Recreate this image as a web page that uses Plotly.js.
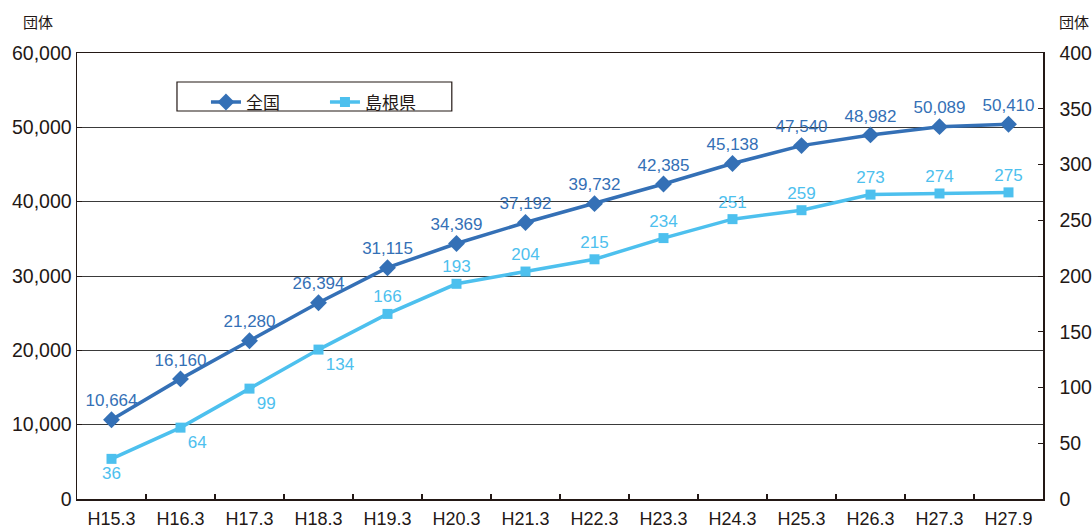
<!DOCTYPE html>
<html>
<head>
<meta charset="utf-8">
<script src="https://cdn.plot.ly/plotly-3.0.1.min.js"></script>
<style>html,body{margin:0;padding:0;background:#fff;}#chart{width:1092px;height:529px;}</style>
</head>
<body>
<div id="chart"></div>
<script>
const categories = ["H15.3","H16.3","H17.3","H18.3","H19.3","H20.3","H21.3","H22.3","H23.3","H24.3","H25.3","H26.3","H27.3","H27.9"];
const national = [10664,16160,21280,26394,31115,34369,37192,39732,42385,45138,47540,48982,50089,50410];
const shimane = [36,64,99,134,166,193,204,215,234,251,259,273,274,275];
const seriesNames = ["全国","島根県"];
const shimaneLabelPos = ["bottom center","bottom right","bottom right","bottom right","top center","top center","top center","top center","top center","top center","top center","top center","top center","top center"];

const darkBlue = "#3470b6";
const lightBlue = "#4dc0ee";
const txt = "#231815";
const font = "Liberation Sans, Arial, sans-serif";
const cjk = "Noto Sans CJK JP, sans-serif";
const fmt = v => v.toLocaleString("en-US");

const traces = [
  {
    x: categories, y: national, name: seriesNames[0], type: "scatter",
    mode: "lines+markers+text",
    line: {color: darkBlue, width: 3.5},
    marker: {symbol: "diamond", size: 13, color: darkBlue},
    text: national.map(fmt), textposition: "top center",
    textfont: {color: darkBlue, size: 17, family: font},
    cliponaxis: false, yaxis: "y"
  },
  {
    x: categories, y: shimane, name: seriesNames[1], type: "scatter",
    mode: "lines+markers+text",
    line: {color: lightBlue, width: 3.5},
    marker: {symbol: "square", size: 10, color: lightBlue},
    text: shimane.map(fmt), textposition: shimaneLabelPos,
    textfont: {color: lightBlue, size: 17, family: font},
    cliponaxis: false, yaxis: "y2"
  }
];

const layout = {
  width: 1092, height: 529,
  margin: {l: 77, r: 49, t: 53, b: 30},
  paper_bgcolor: "#fff", plot_bgcolor: "#fff",
  font: {family: font, color: txt, size: 17},
  showlegend: true,
  legend: {
    orientation: "h", x: 0.1335, y: 0.9295, xanchor: "left", yanchor: "top",
    borderwidth: 0, bgcolor: "rgba(0,0,0,0)",
    font: {family: cjk, size: 17, color: txt},
    entrywidth: 74, entrywidthmode: "pixels", traceorder: "normal"
  },
  shapes: [
    {type: "rect", xref: "paper", yref: "paper", x0: 0.1035, x1: 0.388, y0: 0.870, y1: 0.935,
     line: {color: txt, width: 1.2}, fillcolor: "#fff", layer: "below"}
  ],
  xaxis: {
    type: "category", range: [-0.5, 13.5],
    showline: true, linecolor: txt, linewidth: 1.5, mirror: true,
    ticks: "inside", ticklen: 5, tickcolor: txt, tickwidth: 1.3, tickson: "boundaries",
    showgrid: false, tickfont: {size: 18, color: txt}, ticklabelstandoff: 3
  },
  yaxis: {
    range: [0, 60000], dtick: 10000, tickformat: ",d",
    showline: true, linecolor: txt, linewidth: 1.5,
    ticks: "inside", ticklen: 5, tickcolor: txt,
    showgrid: true, gridcolor: "#3a3a3a", gridwidth: 1, zeroline: false,
    tickfont: {size: 19.5, color: txt}
  },
  yaxis2: {
    range: [0, 400], dtick: 50, overlaying: "y", side: "right",
    showline: true, linecolor: txt, linewidth: 1.5,
    ticks: "inside", ticklen: 5, tickcolor: txt,
    showgrid: false, zeroline: false, tickfont: {size: 19.5, color: txt},
    ticklabelstandoff: 11
  },
  annotations: [
    {text: "団体", xref: "paper", yref: "paper", x: -0.04, y: 1.07, xanchor: "center", yanchor: "middle", showarrow: false, font: {family: cjk, size: 15, color: txt}},
    {text: "団体", xref: "paper", yref: "paper", x: 1.032, y: 1.07, xanchor: "center", yanchor: "middle", showarrow: false, font: {family: cjk, size: 15, color: txt}}
  ]
};

Plotly.newPlot("chart", traces, layout, {displayModeBar: false, staticPlot: true});
</script>
</body>
</html>
